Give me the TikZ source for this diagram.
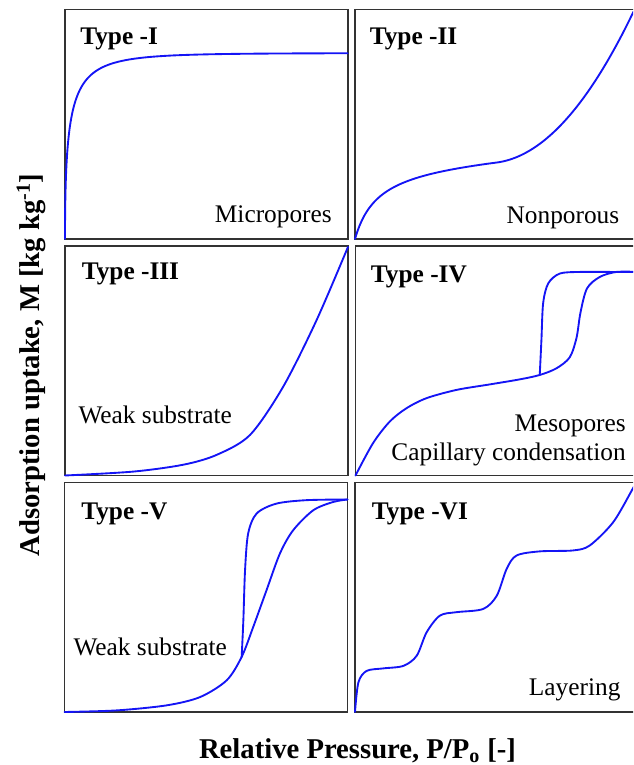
\documentclass[tikz,border=0pt]{standalone}
\usepackage{fontspec}
\setmainfont{Liberation Serif}
\begin{document}
\begin{tikzpicture}[x=0.75pt,y=0.75pt,
  frame/.style={draw=black!80, line width=1pt},
  isotherm/.style={draw=isoblue, line width=1.4pt, line join=round, line cap=round},
  typelabel/.style={anchor=base west, inner sep=0pt, font=\fontsize{19}{21}\selectfont\bfseries},
  porelabel/.style={inner sep=0pt, font=\fontsize{19}{21}\selectfont},
  axislabel/.style={anchor=base, inner sep=0pt, font=\fontsize{21.5}{24}\selectfont\bfseries}]
\definecolor{isoblue}{HTML}{1414F5}
\useasboundingbox (0,0) rectangle (633,765);
\clip (0,0) rectangle (633,765);

% Type I
\begin{scope}[shift={(65,526)}]
\draw[frame] (0,0) rectangle (283,229.5);
\draw[isotherm, xscale=283, yscale=229.5] plot[domain=0:1, samples=80] ({\x*\x}, {0.81*(1-exp(-7.07*\x))});
\node[typelabel] (typeI) at (15,194) {Type -I};
\node[porelabel, anchor=base east] (micro) at (267,16) {Micropores};
\end{scope}

% Type II
\begin{scope}[shift={(355,526)}]
\draw[frame] (0,0) rectangle (283,229.5);
\draw[isotherm, xscale=283, yscale=229.5] plot[domain=0:0.985, samples=120] (\x, {0.34*\x/(0.08+\x) + 0.08*\x + 2.55*max(0,\x-0.5)^2});
\node[typelabel] (typeII) at (14.5,194) {Type -II};
\node[porelabel, anchor=base east] (nonporous) at (264.5,15) {Nonporous};
\end{scope}

% Type III
\begin{scope}[shift={(65,289.5)}]
\draw[frame] (0,0) rectangle (283,229.5);
\draw[isotherm, xscale=283, yscale=229.5] plot[smooth] coordinates {(0,0) (0.241,0.017) (0.418,0.047) (0.536,0.09) (0.654,0.177) (0.771,0.387) (0.889,0.677) (1,0.996)};
\node[typelabel] (typeIII) at (16.5,195.5) {Type -III};
\node[porelabel, anchor=base west] (weakIII) at (13.3,52.4) {Weak substrate};
\end{scope}

% Type IV
\begin{scope}[shift={(355.5,289.5)}]
\draw[frame] (0,0) rectangle (283,229.5);
\draw[isotherm, xscale=283, yscale=229.5] plot[smooth] coordinates {(0,0) (0.062,0.141) (0.121,0.235) (0.18,0.293) (0.251,0.337) (0.357,0.373) (0.475,0.397) (0.581,0.419) (0.651,0.438) (0.71,0.467) (0.757,0.515) (0.781,0.6) (0.795,0.71) (0.818,0.815) (0.863,0.865) (0.922,0.887) (1,0.887)};
\draw[isotherm, xscale=283, yscale=229.5] plot[smooth] coordinates {(0.651,0.438) (0.657,0.59) (0.663,0.75) (0.681,0.837) (0.722,0.88) (0.793,0.887) (0.9,0.887) (1,0.887)};
\node[typelabel] (typeIV) at (15.2,192.8) {Type -IV};
\node[porelabel, anchor=base east] (meso) at (270.5,44) {Mesopores};
\node[porelabel, anchor=base east] (capillary) at (270.5,15) {Capillary condensation};
\end{scope}

% Type V
\begin{scope}[shift={(64.5,53)}]
\draw[frame] (0,0) rectangle (283,229.5);
\draw[isotherm, xscale=283, yscale=229.5] plot[smooth] coordinates {(0,0) (0.185,0.007) (0.361,0.029) (0.479,0.065) (0.573,0.138) (0.626,0.24) (0.667,0.371) (0.714,0.531) (0.761,0.69) (0.808,0.792) (0.879,0.879) (0.949,0.915) (1,0.926)};
\draw[isotherm, xscale=283, yscale=229.5] plot[smooth] coordinates {(0.626,0.24) (0.632,0.4) (0.638,0.618) (0.649,0.778) (0.679,0.865) (0.749,0.908) (0.855,0.923) (1,0.926)};
\node[typelabel] (typeV) at (16.5,192.5) {Type -V};
\node[porelabel, anchor=base west] (weakV) at (8.8,56.7) {Weak substrate};
\end{scope}

% Type VI
\begin{scope}[shift={(355,53)}]
\draw[frame] (0,0) rectangle (283,229.5);
\draw[isotherm, xscale=283, yscale=229.5] plot[smooth] coordinates {(0,0) (0.012,0.129) (0.041,0.179) (0.1,0.19) (0.171,0.201) (0.218,0.245) (0.253,0.347) (0.3,0.42) (0.359,0.435) (0.453,0.449) (0.501,0.507) (0.536,0.624) (0.571,0.682) (0.654,0.7) (0.771,0.704) (0.83,0.726) (0.913,0.828) (0.982,0.974) (1,1.01)};
\node[typelabel] (typeVI) at (16.7,192.7) {Type -VI};
\node[porelabel, anchor=base east] (layering) at (265.7,16) {Layering};
\end{scope}

% axes
\node[axislabel] (xlabel) at (357.5,7) {Relative Pressure, P/P\textsubscript{o} [-]};
\node[axislabel, rotate=90] (ylabel) at (40,400) {Adsorption uptake, M [kg kg\textsuperscript{-1}]};
\end{tikzpicture}
\end{document}
